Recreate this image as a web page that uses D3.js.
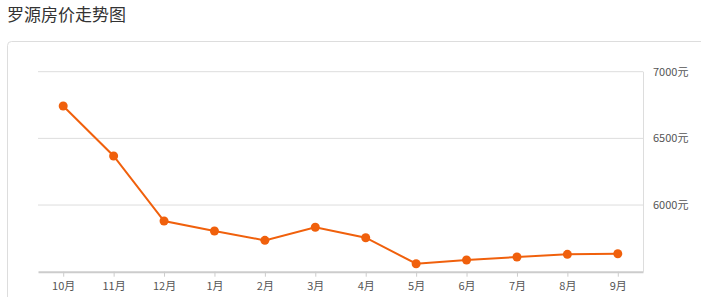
<!DOCTYPE html>
<html>
<head>
<meta charset="utf-8">
<script src="https://cdn.jsdelivr.net/npm/d3@7"></script>
<style>
    body { margin: 0; background: #fff; font-family: "Noto Sans CJK SC", "Noto Sans", sans-serif; }
    #chart { width: 701px; height: 297px; }
</style>
</head>
<body>
<div id="chart"></div>
<script>
    // 数据
    const months = ['10月', '11月', '12月', '1月', '2月', '3月', '4月', '5月', '6月', '7月', '8月', '9月'];
    const prices = [6743, 6368, 5880, 5805, 5735, 5833, 5755, 5560, 5588, 5610, 5630, 5635];
    const yTicks = [6000, 6500, 7000];

    const width = 701, height = 297;
    const plot = { left: 38, right: 643, top: 71.7, bottom: 271.7 };
    const lineColor = '#f0600c';

    const svg = d3.select('#chart').append('svg')
        .attr('width', width).attr('height', height);

    // 标题
    svg.append('text')
        .attr('x', 7).attr('y', 21)
        .style('font-size', '17px')
        .attr('fill', '#333')
        .text('罗源房价走势图');

    // 外框
    svg.append('rect')
        .attr('x', 7.5).attr('y', 41.5)
        .attr('width', 760).attr('height', 300)
        .attr('rx', 4)
        .attr('fill', 'none')
        .attr('stroke', '#ddd');

    // 比例尺
    const xScale = d3.scalePoint().domain(months).range([plot.left, plot.right]).padding(0.5);
    const yScale = d3.scaleLinear().domain([5500, 7000]).range([plot.bottom, plot.top]);

    // 网格线
    svg.append('g').selectAll('line').data(yTicks).enter().append('line')
        .attr('x1', plot.left).attr('x2', plot.right)
        .attr('y1', d => yScale(d)).attr('y2', d => yScale(d))
        .attr('stroke', '#ddd');

    // 右侧竖线
    svg.append('line')
        .attr('x1', plot.right + 0.5).attr('x2', plot.right + 0.5)
        .attr('y1', plot.top).attr('y2', plot.bottom)
        .attr('stroke', '#ddd');

    // y轴标签
    svg.append('g').selectAll('text').data(yTicks).enter().append('text')
        .attr('x', plot.right + 10)
        .attr('y', d => yScale(d))
        .attr('dy', '.35em')
        .attr('fill', '#555')
        .style('font-size', '11px')
        .text(d => d + '元');

    // x轴
    const xAxis = d3.axisBottom(xScale).tickSize(5).tickSizeOuter(0).tickPadding(6);
    const gx = svg.append('g')
        .attr('transform', 'translate(0,' + plot.bottom + ')')
        .call(xAxis);
    gx.select('.domain').attr('stroke', '#ccc').attr('stroke-width', 2);
    gx.selectAll('.tick line').attr('stroke', '#ccc');
    gx.selectAll('text')
        .attr('fill', '#555')
        .style('font-size', '11px')
        .style('font-family', '"Noto Sans CJK SC", sans-serif');

    // 折线
    const line = d3.line()
        .x((d, i) => xScale(months[i]))
        .y(d => yScale(d));

    svg.append('path')
        .datum(prices)
        .attr('d', line)
        .attr('fill', 'none')
        .attr('stroke', lineColor)
        .attr('stroke-width', 2);

    svg.append('g').selectAll('circle').data(prices).enter().append('circle')
        .attr('cx', (d, i) => xScale(months[i]))
        .attr('cy', d => yScale(d))
        .attr('r', 4.5)
        .attr('fill', lineColor);
</script>
</body>
</html>
